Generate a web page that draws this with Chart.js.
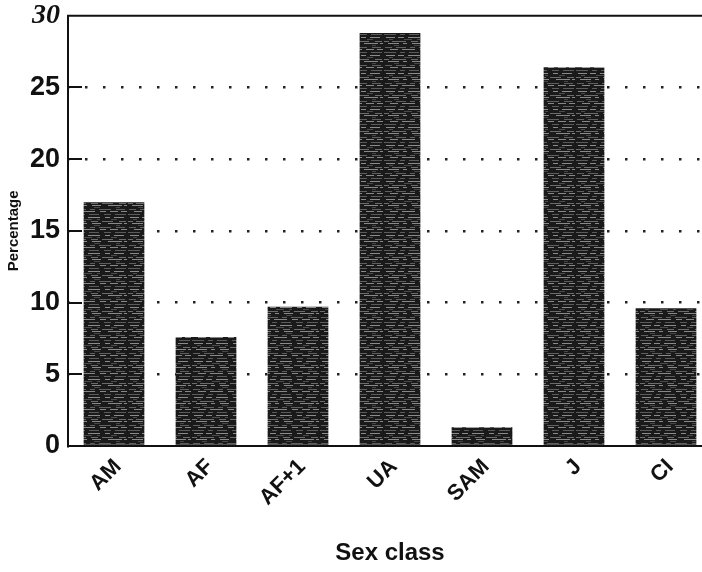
<!DOCTYPE html>
<html>
<head>
<meta charset="utf-8">
<script src="https://cdn.jsdelivr.net/npm/chart.js@4/dist/chart.umd.min.js"></script>
<style>
  html, body { margin: 0; padding: 0; background: #fff; overflow: hidden; }
  #wrap { position: relative; width: 714px; height: 572px; }
</style>
</head>
<body>
<div id="wrap"><canvas id="c" width="714" height="572"></canvas></div>
<script>
const categories = ["AM", "AF", "AF+1", "UA", "SAM", "J", "CI"];
const percentages = [17.0, 7.6, 9.7, 28.8, 1.3, 26.4, 9.6];
const yTicks = [0, 5, 10, 15, 20, 25, 30];
const xTitle = "Sex class";
const yTitle = "Percentage";

function makePattern() {
  const p = document.createElement('canvas');
  p.width = 64; p.height = 18;
  const g = p.getContext('2d');
  g.fillStyle = '#1a1a1a';
  g.fillRect(0, 0, 64, 18);
  const rows = [
    [1, [[2, 9], [14, 6], [24, 12], [41, 5], [50, 10]], 'rgba(215,215,215,0.6)'],
    [3, [[5, 4], [20, 8], [33, 3], [47, 6]], 'rgba(150,150,150,0.4)'],
    [5, [[0, 5], [8, 14], [27, 7], [38, 11], [55, 7]], 'rgba(190,190,190,0.5)'],
    [7, [[4, 11], [19, 4], [28, 9], [44, 14], [60, 3]], 'rgba(230,230,230,0.55)'],
    [9, [[10, 5], [30, 6], [52, 4]], 'rgba(140,140,140,0.4)'],
    [11, [[1, 7], [12, 10], [26, 5], [35, 12], [52, 9]], 'rgba(180,180,180,0.45)'],
    [13, [[6, 8], [18, 13], [36, 6], [46, 8], [57, 6]], 'rgba(225,225,225,0.55)'],
    [16, [[0, 12], [16, 5], [25, 10], [40, 7], [51, 11]], 'rgba(170,170,170,0.45)']
  ];
  rows.forEach(([y, segs, col]) => {
    g.fillStyle = col;
    segs.forEach(([x, w]) => g.fillRect(x, y, w, 1));
  });
  return g.createPattern(p, 'repeat');
}

const ctx = document.getElementById('c').getContext('2d');
const barFill = makePattern();

const framePlugin = {
  id: 'frame',
  beforeDatasetsDraw(chart) {
    const { ctx, chartArea, scales } = chart;
    ctx.save();
    ctx.strokeStyle = '#111';
    ctx.lineWidth = 2;
    yTicks.forEach(v => {
      if (v === 0 || v === 30) return;
      const y = Math.round(scales.y.getPixelForValue(v));
      ctx.beginPath();
      ctx.moveTo(chartArea.left, y);
      ctx.lineTo(chartArea.left + 14, y);
      ctx.stroke();
    });
    ctx.restore();
  },
  afterDraw(chart) {
    const { ctx, chartArea } = chart;
    ctx.save();
    ctx.strokeStyle = '#111';
    ctx.lineWidth = 2;
    ctx.beginPath();
    ctx.moveTo(chartArea.left - 1, chartArea.top);
    ctx.lineTo(chartArea.right + 2, chartArea.top);
    ctx.stroke();
    ctx.restore();
  }
};

new Chart(ctx, {
  type: 'bar',
  data: {
    labels: categories,
    datasets: [{
      data: percentages,
      backgroundColor: barFill,
      borderWidth: 0,
      categoryPercentage: 1.0,
      barPercentage: 0.66
    }]
  },
  options: {
    responsive: false,
    animation: false,
    events: [],
    layout: { padding: { top: 0, right: 2, bottom: 0, left: 0 } },
    plugins: { legend: { display: false }, tooltip: { enabled: false } },
    scales: {
      x: {
        grid: { display: false, drawTicks: false },
        border: { display: true, color: '#111', width: 2 },
        ticks: {
          color: '#111',
          minRotation: 45,
          maxRotation: 45,
          padding: 8,
          labelOffset: 4,
          font: { family: 'Liberation Sans', weight: 'bold', size: 22 }
        },
        title: {
          display: true,
          text: xTitle,
          color: '#111',
          font: { family: 'Liberation Sans', weight: 'bold', size: 24 },
          padding: { top: 0, bottom: 4 }
        },
        afterFit(scale) { scale.height = 126; }
      },
      y: {
        min: 0,
        max: 30,
        afterBuildTicks(scale) { scale.ticks = yTicks.map(v => ({ value: v })); },
        grid: {
          drawTicks: false,
          color: (c) => (c.tick && (c.tick.value === 0 || c.tick.value === 30)) ? 'rgba(0,0,0,0)' : '#222',
          lineWidth: 2.5
        },
        border: { display: true, color: '#111', width: 2, dash: [2.5, 15.5], dashOffset: -16 },
        ticks: {
          color: '#111',
          padding: 8,
          font: (c) => (c.tick && c.tick.value === 30)
            ? { family: 'Liberation Serif', style: 'italic', weight: 'bold', size: 28, lineHeight: 0.55 }
            : { family: 'Liberation Sans', weight: 'bold', size: 27, lineHeight: 1 }
        },
        title: {
          display: true,
          text: yTitle,
          color: '#111',
          font: { family: 'Liberation Sans', weight: 'bold', size: 15 },
          padding: { top: 5, bottom: 0 }
        },
        afterFit(scale) { scale.width = 68; }
      }
    }
  },
  plugins: [framePlugin]
});
</script>
</body>
</html>
